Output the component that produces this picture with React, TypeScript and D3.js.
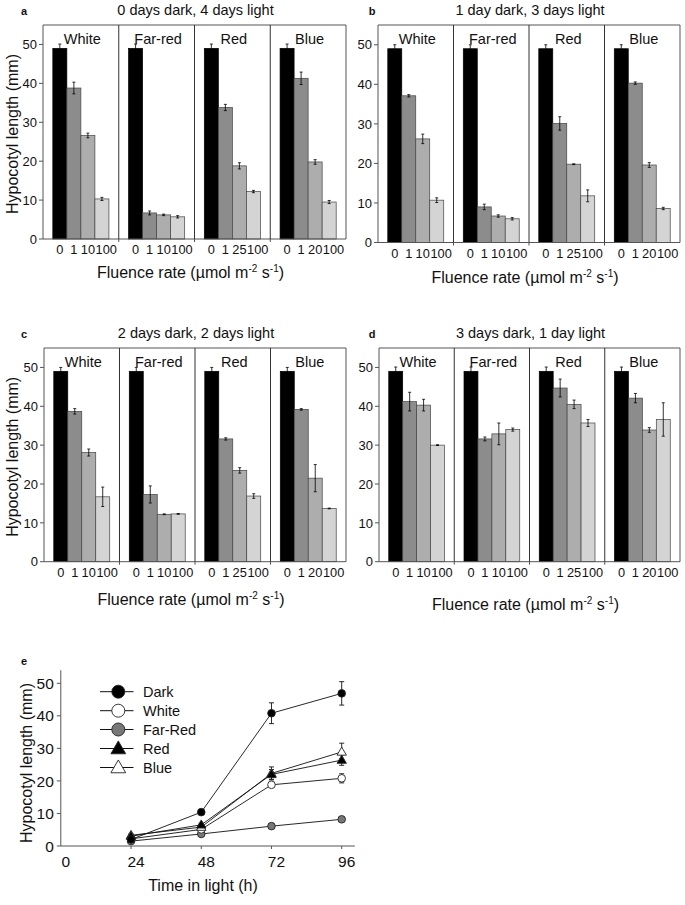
import React from "react";
import * as d3 from "d3";

const FONT = "'Liberation Sans', Arial, Helvetica, sans-serif";

// ---------- Data: bar panels a-d ----------
const conditions = ["White", "Far-red", "Red", "Blue"];
const fluenceTicks = [
  ["0", "1", "10", "100"],
  ["0", "1", "10", "100"],
  ["0", "1", "25", "100"],
  ["0", "1", "20", "100"],
];
const panelLetters = ["a", "b", "c", "d"];
const panelTitles = [
  "0 days dark, 4 days light",
  "1 day dark, 3 days light",
  "2 days dark, 2 days light",
  "3 days dark, 1 day light",
];

const valuesA = [[49, 38.8, 26.6, 10.3], [49, 6.7, 6.2, 5.7], [49, 33.8, 18.8, 12.2], [49, 41.3, 19.8, 9.5]];
const errorsA = [[1.1, 1.5, 0.6, 0.4], [1.1, 0.5, 0.2, 0.3], [1.1, 0.8, 0.8, 0.3], [1.1, 1.6, 0.6, 0.4]];
const valuesB = [[49, 37.1, 26.2, 10.7], [49, 9.0, 6.7, 6.0], [49, 30.1, 19.8, 11.8], [49, 40.3, 19.6, 8.6]];
const errorsB = [[1.0, 0.3, 1.2, 0.6], [1.0, 0.7, 0.3, 0.3], [1.0, 1.7, 0.1, 1.5], [1.0, 0.3, 0.6, 0.3]];
const valuesC = [[49, 38.7, 28.1, 16.7], [49, 17.3, 12.2, 12.3], [49, 31.6, 23.5, 16.9], [49, 39.2, 21.5, 13.7]];
const errorsC = [[1.0, 0.7, 0.9, 2.5], [1.0, 2.2, 0.1, 0.1], [1.0, 0.3, 0.7, 0.6], [1.0, 0.2, 3.5, 0.1]];
const valuesD = [[49, 41.2, 40.3, 30.0], [49, 31.6, 32.9, 34.0], [49, 44.7, 40.5, 35.7], [49, 42.1, 33.9, 36.6]];
const errorsD = [[1.1, 2.4, 1.5, 0.1], [1.1, 0.5, 2.8, 0.4], [1.1, 2.3, 1.1, 0.9], [1.1, 1.2, 0.6, 4.3]];

const allValues = [valuesA, valuesB, valuesC, valuesD];
const allErrors = [errorsA, errorsB, errorsC, errorsD];
const barTicks = [0, 10, 20, 30, 40, 50];

// ---------- Data: panel e ----------
const hours = [24, 48, 72, 96];
const hourTicks = [0, 24, 48, 72, 96];
const lineTicks = [0, 10, 20, 30, 40, 50];
const seriesNames = ["Dark", "White", "Far-Red", "Red", "Blue"];
const darkValues = [2.0, 10.4, 40.8, 46.9];
const darkErrors = [0.3, 0.5, 3.2, 3.6];
const whiteValues = [2.2, 5.1, 18.8, 20.8];
const whiteErrors = [0.3, 0.4, 0.8, 1.4];
const farRedValues = [1.5, 3.7, 6.1, 8.2];
const farRedErrors = [0.2, 0.3, 0.4, 0.5];
const redValues = [3.0, 6.5, 22.0, 26.4];
const redErrors = [0.4, 0.5, 1.5, 1.6];
const blueValues = [3.3, 5.8, 22.3, 28.9];
const blueErrors = [0.4, 0.5, 2.0, 2.7];

// ---------- Styles / layout ----------
const barFills = ["#000000", "#8c8c8c", "#adadad", "#d4d4d4"];
const frameColor = "#555555";

const layouts = [
  { x0: 43, x1: 346, top: 25, bottom: 239, fluenceY: 278, letterX: 24, yLabel: true },
  { x0: 378, x1: 680, top: 25, bottom: 242.5, fluenceY: 283, letterX: 372, yLabel: false },
  { x0: 44, x1: 346, top: 348, bottom: 561.7, fluenceY: 605, letterX: 24, yLabel: true },
  { x0: 379, x1: 680, top: 348, bottom: 561.7, fluenceY: 610, letterX: 372, yLabel: false },
];

// greedy left-to-right placement so neighbouring tick labels do not overlap
function placeLabels(labels: string[], centers: number[], fs: number) {
  const w = labels.map((l) => l.length * 0.556 * fs);
  const pos = centers.slice();
  for (let i = 1; i < pos.length; i++) {
    const minCenter = pos[i - 1] + w[i - 1] / 2 + 0.6 + w[i] / 2;
    if (pos[i] < minCenter) pos[i] = minCenter;
  }
  return pos;
}

function FluenceLabel({ x, y }: { x: number; y: number }) {
  return (
    <text x={x} y={y} textAnchor="middle" fontSize={16} fontFamily={FONT} fill="#111">
      Fluence rate (µmol m
      <tspan fontSize={10} dy={-6}>-2</tspan>
      <tspan dy={6}> s</tspan>
      <tspan fontSize={10} dy={-6}>-1</tspan>
      <tspan dy={6}>)</tspan>
    </text>
  );
}

function BarPanel({ idx }: { idx: number }) {
  const L = layouts[idx];
  const values = allValues[idx];
  const errs = allErrors[idx];
  const y = d3.scaleLinear().domain([0, 55]).range([L.bottom, L.top]);
  const sec = d3.scaleBand<string>().domain(conditions).range([L.x0, L.x1]);
  const inner = d3
    .scaleBand<number>()
    .domain(d3.range(4))
    .range([0, sec.bandwidth()])
    .paddingInner(0)
    .paddingOuter(0.7);
  const bw = inner.bandwidth();
  const tickFs = 12.8;
  const midX = (L.x0 + L.x1) / 2;

  return (
    <g>
      {conditions.map((c, ci) => {
        const sx = sec(c)!;
        return (
          <g key={c}>
            {values[ci].map((v, bi) => {
              const bx = sx + inner(bi)!;
              return (
                <rect
                  key={bi}
                  x={bx}
                  y={y(v)}
                  width={bw}
                  height={y(0) - y(v)}
                  fill={barFills[bi]}
                  stroke={bi === 0 ? "#000" : "#444"}
                  strokeWidth={0.7}
                />
              );
            })}
            {values[ci].map((v, bi) => {
              const cx = sx + inner(bi)! + bw / 2;
              const e = errs[ci][bi];
              return (
                <g key={"e" + bi} stroke="#000" strokeWidth={0.8}>
                  <line x1={cx} x2={cx} y1={y(v + e)} y2={y(v - e)} />
                  <line x1={cx - 1.5} x2={cx + 1.5} y1={y(v + e)} y2={y(v + e)} />
                  <line x1={cx - 1.5} x2={cx + 1.5} y1={y(v - e)} y2={y(v - e)} />
                </g>
              );
            })}
            <text
              x={sx + sec.bandwidth() / 2 + 1.5}
              y={L.top + 18.5}
              textAnchor="middle"
              fontSize={14.5}
              fontFamily={FONT}
              fill="#111"
            >
              {c}
            </text>
            {(() => {
              const labels = fluenceTicks[ci];
              const centers = labels.map((_, bi) => sx + inner(bi)! + bw / 2);
              const pos = placeLabels(labels, centers, tickFs);
              return labels.map((lab, bi) => (
                <text
                  key={"t" + bi}
                  x={pos[bi]}
                  y={L.bottom + 15}
                  textAnchor="middle"
                  fontSize={tickFs}
                  fontFamily={FONT}
                  fill="#111"
                >
                  {lab}
                </text>
              ));
            })()}
          </g>
        );
      })}
      <line x1={L.x0} x2={L.x1} y1={L.top} y2={L.top} stroke={frameColor} strokeWidth={1} />
      <line x1={L.x1} x2={L.x1} y1={L.top} y2={L.bottom} stroke={frameColor} strokeWidth={1} />
      <line x1={L.x0} x2={L.x0} y1={L.top} y2={L.bottom} stroke={frameColor} strokeWidth={1} />
      <line x1={L.x0} x2={L.x1} y1={L.bottom} y2={L.bottom} stroke={frameColor} strokeWidth={1} />
      {conditions.slice(1).map((c) => (
        <line key={c} x1={sec(c)!} x2={sec(c)!} y1={L.top} y2={L.bottom} stroke="#333" strokeWidth={1} />
      ))}
      {conditions.slice(1).map((c) => (
        <line key={"xt" + c} x1={sec(c)!} x2={sec(c)!} y1={L.bottom} y2={L.bottom + 3} stroke={frameColor} strokeWidth={1} />
      ))}
      {barTicks.map((t) => (
        <g key={t}>
          <line x1={L.x0 - 4} x2={L.x0} y1={y(t)} y2={y(t)} stroke={frameColor} strokeWidth={1} />
          <text
            x={L.x0 - 6}
            y={y(t)}
            dy="0.36em"
            textAnchor="end"
            fontSize={13}
            fontFamily={FONT}
            fill="#111"
          >
            {t}
          </text>
        </g>
      ))}
      <text x={midX + 1} y={L.top - 10} textAnchor="middle" fontSize={14.5} fontFamily={FONT} fill="#111">
        {panelTitles[idx]}
      </text>
      <text x={L.letterX} y={L.top - 10} textAnchor="middle" fontSize={11} fontWeight="bold" fontFamily={FONT} fill="#111">
        {panelLetters[idx]}
      </text>
      {L.yLabel && (
        <text
          transform={`translate(18,${(L.top + L.bottom) / 2 + 2}) rotate(-90)`}
          textAnchor="middle"
          fontSize={16}
          fontFamily={FONT}
          fill="#111"
        >
          Hypocotyl length (mm)
        </text>
      )}
      <FluenceLabel x={midX - 4} y={L.fluenceY} />
    </g>
  );
}

function TimePanel() {
  const x = d3.scaleLinear().domain([0, 96]).range([60.8, 341.7]);
  const y = d3.scaleLinear().domain([0, 50]).range([846, 683.3]);
  const series = [
    { name: seriesNames[0], values: darkValues, errors: darkErrors, shape: "circle", fill: "#000" },
    { name: seriesNames[1], values: whiteValues, errors: whiteErrors, shape: "circle", fill: "#fff" },
    { name: seriesNames[2], values: farRedValues, errors: farRedErrors, shape: "circle", fill: "#777" },
    { name: seriesNames[3], values: redValues, errors: redErrors, shape: "triangle", fill: "#000" },
    { name: seriesNames[4], values: blueValues, errors: blueErrors, shape: "triangle", fill: "#fff" },
  ];
  const line = d3
    .line<number>()
    .x((_, i) => x(hours[i]))
    .y((v) => y(v));
  const tri = (size: number) => d3.symbol().type(d3.symbolTriangle).size(size)()!;
  const marker = (shape: string, fill: string, cx: number, cy: number, big: boolean) =>
    shape === "circle" ? (
      <circle cx={cx} cy={cy} r={big ? 6.5 : 3.8} fill={fill} stroke="#222" strokeWidth={0.9} />
    ) : (
      <path d={tri(big ? 95 : 38)} transform={`translate(${cx},${cy + (big ? 1 : 0.5)})`} fill={fill} stroke="#222" strokeWidth={0.9} />
    );
  const drawOrder = [2, 1, 4, 3, 0];
  const legendY = [691.7, 710.7, 729.5, 748.5, 767.5];

  return (
    <g>
      <line x1={x(0)} x2={x(100.5)} y1={y(0)} y2={y(0)} stroke={frameColor} strokeWidth={1} />
      <line x1={x(0)} x2={x(0)} y1={y(0)} y2={y(54)} stroke={frameColor} strokeWidth={1} />
      {lineTicks.map((t) => (
        <g key={t}>
          <line x1={x(0) - 4} x2={x(0)} y1={y(t)} y2={y(t)} stroke={frameColor} />
          <text x={x(0) - 7} y={y(t)} dy="0.36em" textAnchor="end" fontSize={15.5} fontFamily={FONT} fill="#111">
            {t}
          </text>
        </g>
      ))}
      {hourTicks.map((t) => (
        <g key={t}>
          {t > 0 && <line x1={x(t)} x2={x(t)} y1={y(0)} y2={y(0) + 3} stroke={frameColor} />}
          <text x={x(t) + 5} y={867} textAnchor="middle" fontSize={15.5} fontFamily={FONT} fill="#111">
            {t}
          </text>
        </g>
      ))}
      <text x={203} y={891} textAnchor="middle" fontSize={16} fontFamily={FONT} fill="#111">
        Time in light (h)
      </text>
      <text
        transform={`translate(32,${763}) rotate(-90)`}
        textAnchor="middle"
        fontSize={16}
        fontFamily={FONT}
        fill="#111"
      >
        Hypocotyl length (mm)
      </text>
      <text x={24} y={665} textAnchor="middle" fontSize={11} fontWeight="bold" fontFamily={FONT} fill="#111">
        e
      </text>
      {drawOrder.map((si) => (
        <path key={"l" + si} d={line(series[si].values)!} fill="none" stroke="#111" strokeWidth={0.9} />
      ))}
      {drawOrder.map((si) =>
        series[si].values.map((v, i) => {
          const e = series[si].errors[i];
          const cx = x(hours[i]);
          return (
            <g key={"e" + si + "-" + i} stroke="#111" strokeWidth={0.9}>
              <line x1={cx} x2={cx} y1={y(v + e)} y2={y(v - e)} />
              <line x1={cx - 2.5} x2={cx + 2.5} y1={y(v + e)} y2={y(v + e)} />
              <line x1={cx - 2.5} x2={cx + 2.5} y1={y(v - e)} y2={y(v - e)} />
            </g>
          );
        })
      )}
      {drawOrder.map((si) =>
        series[si].values.map((v, i) => (
          <g key={"m" + si + "-" + i}>{marker(series[si].shape, series[si].fill, x(hours[i]), y(v), false)}</g>
        ))
      )}
      {series.map((s, i) => (
        <g key={"lg" + i}>
          <line x1={100} x2={133.5} y1={legendY[i]} y2={legendY[i]} stroke="#111" strokeWidth={1} />
          {marker(s.shape, s.fill, 118.3, legendY[i], true)}
          <text x={143} y={legendY[i]} dy="0.36em" fontSize={14.5} fontFamily={FONT} fill="#111">
            {s.name}
          </text>
        </g>
      ))}
    </g>
  );
}

export default function App() {
  return (
    <svg
      width={685}
      height={905}
      viewBox="0 0 685 905"
      style={{ position: "absolute", left: 0, top: 0, display: "block", background: "#fff" }}
    >
      <rect x={0} y={0} width={685} height={905} fill="#fff" />
      {[0, 1, 2, 3].map((i) => (
        <BarPanel key={i} idx={i} />
      ))}
      <TimePanel />
    </svg>
  );
}
